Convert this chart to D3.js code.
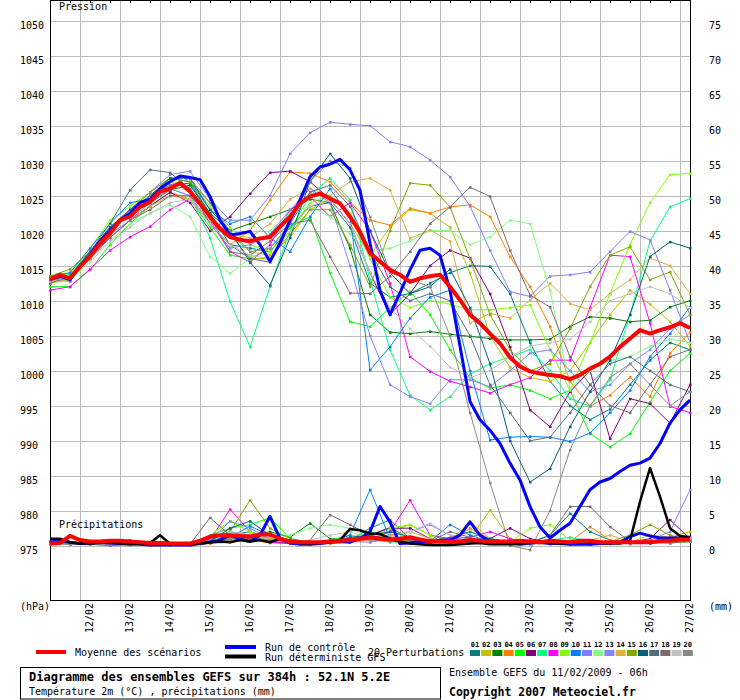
<!DOCTYPE html>
<html>
<head>
    <meta http-equiv="content-Type" content="text/html; charset=utf-8"/>
		<style>
		body {
		    margin: 0;
		    background: #ffffff;
		}
		svg {
		    font-family: "DejaVu Sans Mono", monospace;
		    font-size: 10px;
		}
		</style>
</head>
<body>

<div id="gefs"></div>

<script src="https://d3js.org/d3.v7.min.js" charset="utf-8"></script>

<script>

// ***************
// Data
// ***************

// time axis : hours after 11/02/2009 06h, 6h steps for the main runs,
// 12h steps for the 20 perturbations
var dateLabels = ["12/02","13/02","14/02","15/02","16/02","17/02","18/02","19/02",
                  "20/02","21/02","22/02","23/02","24/02","25/02","26/02","27/02"];
var pressTicks = [975,980,985,990,995,1000,1005,1010,1015,1020,1025,1030,1035,1040,1045,1050];
var mmTicks    = [0,5,10,15,20,25,30,35,40,45,50,55,60,65,70,75];

// mean of scenarios (hPa, every 6h)
var meanPress = [1013.0,1013.7,1013.2,1014.9,1016.3,1018.2,1019.6,1021.5,1022.0,1023.4,
                 1024.1,1025.6,1026.0,1026.8,1025.6,1023.9,1022.0,1020.3,1019.1,1018.7,
                 1018.5,1018.9,1019.1,1020.6,1022.0,1023.9,1024.9,1025.3,1024.6,1023.9,
                 1022.0,1019.8,1016.8,1015.6,1014.4,1013.7,1012.7,1013.2,1013.5,1013.7,
                 1012.0,1010.1,1008.0,1006.8,1005.3,1003.9,1001.9,1000.6,999.9,999.6,
                 999.4,999.2,998.8,999.4,1000.3,1001.0,1002.0,1003.4,1004.6,1005.8,
                 1005.3,1005.8,1006.2,1006.8,1006.1];
// mean precipitation (mm, every 6h)
var meanRain = [0.3,0.4,1.4,0.8,0.6,0.6,0.7,0.7,0.6,0.5,
                0.4,0.4,0.3,0.3,0.3,0.7,1.3,1.5,1.5,1.4,
                1.3,1.6,1.6,1.0,0.6,0.5,0.5,0.5,0.6,0.7,
                0.8,1.0,1.2,1.0,0.9,1.0,1.2,0.9,0.6,0.6,
                0.6,0.6,0.8,0.7,0.6,0.6,0.6,0.7,0.6,0.5,
                0.7,0.6,0.5,0.7,0.7,0.5,0.5,0.5,0.5,0.5,
                0.5,0.7,0.7,0.9,0.9];

// control run
var ctrlPress = [1013.0,1013.5,1013.0,1015.0,1016.5,1018.5,1020.0,1021.5,1022.5,1024.0,
                 1024.5,1026.0,1027.0,1027.8,1027.6,1027.3,1024.9,1021.5,1019.4,1019.6,
                 1019.9,1018.0,1015.6,1018.2,1021.5,1024.4,1027.7,1029.1,1029.5,1030.2,
                 1028.7,1025.8,1018.2,1011.5,1008.0,1011.1,1014.4,1017.2,1017.5,1016.5,
                 1011.5,1003.5,995.6,993.0,991.5,989.6,986.8,984.4,980.6,977.7,
                 976.1,977.2,978.2,980.6,983.0,984.1,984.6,985.6,986.5,986.8,
                 987.5,989.6,992.5,994.4,995.8];
var ctrlRain = [0.5,0.8,0.5,0.3,0.4,0.5,0.4,0.3,0.3,0.2,
                0.1,0.1,0.1,0.1,0.1,0.3,0.5,0.8,1.5,1.0,
                0.6,1.5,4.2,1.0,0.4,0.2,0.2,0.3,0.5,0.6,
                0.5,1.0,2.0,5.6,3.4,0.3,0.4,0.6,0.5,0.8,
                0.8,1.5,3.4,1.5,0.6,0.4,0.3,0.2,0.4,0.5,
                0.3,0.3,0.2,0.2,0.2,0.3,0.4,0.5,1.3,1.8,
                1.4,1.1,1.1,1.1,1.2];

// deterministic GFS (only the precipitation shows)
var detRain = [1.0,1.0,0.5,0.3,0.3,0.4,0.5,0.3,0.2,0.3,
               0.4,1.5,0.3,0.2,0.2,0.3,0.5,0.6,0.5,0.8,
               0.6,0.8,0.5,1.0,0.7,0.4,0.3,0.4,0.5,0.8,
               2.4,2.2,1.7,1.7,1.0,0.6,0.3,0.2,0.1,0.1,
               0.1,0.2,0.3,0.4,0.2,0.2,0.2,0.3,0.4,0.5,
               0.4,0.3,0.4,0.8,0.6,0.4,0.3,0.3,0.7,6.3,
               11.1,7.0,2.5,1.4,1.2];

// 20 perturbations, pressure (hPa, every 12h)
var press01 = [1013.5,1013.2,1016.8,1020.0,1022.5,1025.0,1026.5,1026.8,1022.5,1018.0,1017.5,1017.0,1020.5,1023.5,1024.0,1020.5,1012.5,1010.5,1011.0,1012.5,1014.0,1015.0,1014.9,1011.0,1004.0,998.5,995.0,993.0,994.5,998.0,1001.5,1004.0,1003.0];
var press02 = [1012.5,1013.5,1016.0,1019.5,1022.5,1024.5,1027.0,1026.0,1022.0,1019.5,1017.0,1016.5,1019.0,1023.0,1024.5,1021.0,1016.5,1020.5,1023.0,1022.5,1020.5,1014.0,1005.0,1000.5,999.0,998.5,1000.0,1004.0,1008.0,1011.5,1009.5,1007.0,1003.5];
var press03 = [1013.0,1012.8,1016.2,1019.8,1022.5,1024.0,1025.8,1026.5,1022.5,1020.0,1021.0,1022.0,1023.0,1024.5,1024.0,1017.5,1008.0,1005.5,1005.3,1005.6,1005.2,1004.9,1004.6,1004.4,1004.4,1004.5,1006.3,1007.7,1007.5,1007.0,1007.2,1009.1,1010.0];
var press04 = [1012.8,1013.0,1016.0,1019.0,1021.5,1023.5,1025.5,1024.5,1021.0,1018.0,1020.0,1024.4,1028.4,1028.2,1027.0,1024.0,1021.5,1020.8,1023.2,1022.5,1023.4,1023.7,1022.0,1016.3,1012.0,1006.3,998.5,994.9,996.5,999.1,996.3,1002.5,1005.5];
var press05 = [1012.0,1012.0,1014.4,1018.0,1021.0,1023.5,1025.0,1024.5,1020.5,1016.5,1016.0,1017.5,1020.5,1022.0,1014.0,1007.0,1006.3,1009.0,1011.3,1008.0,1003.0,999.0,997.5,998.0,997.2,996.0,997.2,991.0,989.1,991.0,995.5,1000.0,1002.5];
var press06 = [1013.2,1013.5,1016.5,1019.0,1021.5,1023.5,1025.5,1024.0,1020.0,1022.0,1025.3,1028.3,1028.5,1027.0,1024.5,1021.0,1014.0,1008.0,1011.0,1015.0,1017.2,1016.1,1011.0,1003.4,994.4,992.0,997.0,1000.0,990.3,996.0,995.3,992.5,998.0];
var press07 = [1013.0,1013.8,1017.0,1020.5,1022.5,1024.5,1026.0,1025.0,1019.0,1009.9,1003.4,1012.0,1020.1,1025.0,1027.5,1024.4,1013.0,1003.0,996.5,994.4,996.3,999.5,1001.0,1002.0,1003.0,1000.0,996.0,994.9,998.7,1008.0,1018.5,1023.4,1024.6];
var press08 = [1011.5,1012.0,1014.5,1017.2,1019.1,1020.6,1023.0,1024.5,1021.5,1017.0,1015.5,1018.0,1023.0,1024.9,1022.0,1024.0,1020.0,1012.5,1002.0,999.9,998.5,997.7,996.8,998.0,999.0,1001.5,1001.5,1009.0,1016.5,1016.3,1006.8,994.9,994.0];
var press09 = [1013.0,1014.0,1017.5,1021.5,1023.5,1025.5,1027.5,1027.0,1023.5,1020.5,1018.0,1017.0,1020.0,1024.0,1025.0,1022.5,1016.0,1010.5,1009.0,1010.0,1009.5,1008.7,1008.7,1009.0,1009.4,1003.0,997.2,1004.0,1011.0,1018.0,1024.0,1028.0,1028.2];
var press10 = [1013.5,1014.0,1017.5,1021.0,1024.0,1024.5,1027.5,1027.0,1023.0,1021.0,1022.0,1019.0,1017.0,1022.0,1026.0,1022.0,1000.1,1003.4,1007.5,1010.5,1011.5,1000.0,990.1,990.5,990.6,990.5,989.9,991.1,994.0,997.2,1002.0,1005.3,1009.1];
var press11 = [1013.0,1013.5,1016.5,1020.0,1023.0,1025.5,1028.0,1028.5,1024.5,1021.5,1021.5,1025.0,1031.0,1034.0,1035.5,1035.2,1035.0,1032.7,1032.0,1030.1,1027.7,1023.5,1017.2,1011.3,1010.6,1013.5,1013.7,1014.1,1017.0,1019.9,1018.7,1011.5,1004.0];
var press12 = [1012.5,1013.0,1015.5,1018.5,1021.0,1022.5,1023.7,1022.0,1016.3,1013.9,1016.0,1020.0,1022.5,1023.5,1022.0,1019.5,1017.0,1017.5,1018.5,1020.0,1020.0,1018.0,1019.1,1021.5,1021.0,1011.5,997.5,1000.0,1001.5,1002.0,1003.5,1004.5,1004.0];
var press13 = [1013.0,1013.5,1016.0,1019.5,1021.5,1024.0,1026.0,1025.0,1021.0,1017.5,1018.0,1019.5,1023.0,1026.0,1024.0,1015.0,1005.0,998.0,996.3,995.3,998.7,998.7,997.7,1000.0,1002.5,1003.0,1000.0,997.0,998.0,1001.0,1003.0,1006.0,1008.0];
var press14 = [1012.5,1013.0,1016.0,1019.0,1021.5,1023.5,1025.0,1024.5,1021.5,1019.5,1019.0,1021.0,1024.5,1026.0,1025.0,1027.0,1027.5,1025.8,1018.9,1020.1,1018.5,1006.8,1008.2,1007.5,1010.1,1012.5,1009.6,1008.7,1011.0,1013.0,1016.1,1015.0,1011.0];
var press15 = [1013.5,1014.5,1017.0,1020.5,1023.0,1025.5,1027.5,1027.0,1024.0,1019.5,1016.0,1016.0,1019.5,1023.0,1023.0,1018.0,1012.0,1020.0,1026.8,1026.5,1023.4,1016.0,1008.0,1003.0,1000.0,1001.0,1006.0,1012.0,1016.5,1017.7,1013.0,1014.1,1008.0];
var press16 = [1013.0,1013.5,1017.0,1020.5,1023.0,1025.0,1027.5,1027.5,1023.0,1020.0,1015.5,1012.2,1019.0,1027.0,1031.0,1027.5,1020.0,1014.0,1011.0,1012.0,1014.5,1009.0,1001.0,990.0,984.1,986.0,992.0,997.0,1001.5,1008.0,1016.3,1018.4,1017.5];
var press17 = [1012.5,1013.5,1017.0,1021.0,1025.8,1028.7,1028.3,1026.0,1021.0,1018.0,1016.0,1015.5,1021.0,1025.5,1026.5,1023.5,1017.0,1012.0,1010.0,1011.0,1010.0,1005.0,998.0,994.0,990.0,990.5,994.0,998.0,1001.0,1002.0,1000.0,998.0,997.0];
var press18 = [1013.0,1013.0,1016.0,1019.0,1021.5,1023.0,1025.0,1025.0,1022.0,1017.0,1016.5,1018.5,1021.0,1021.5,1016.3,1011.1,1011.0,1013.5,1017.0,1021.0,1023.4,1026.2,1024.9,1017.2,1010.8,1009.1,1002.0,998.0,995.0,994.0,998.0,1002.0,1003.0];
var press19 = [1012.8,1013.3,1016.0,1018.5,1020.5,1022.5,1024.0,1024.5,1021.0,1018.0,1016.5,1016.0,1020.0,1023.5,1024.5,1021.0,1014.0,1009.0,1006.0,1003.5,1000.5,999.0,1000.0,1002.0,1003.5,1004.0,1004.5,1007.0,1010.0,1011.0,1012.0,1011.0,1009.0];
var press20 = [1013.0,1013.2,1016.5,1020.0,1022.5,1025.0,1026.5,1027.5,1024.0,1020.0,1017.0,1017.5,1021.0,1027.0,1030.0,1029.0,1022.0,1014.0,1013.0,1012.0,1005.0,994.0,984.0,975.0,974.4,980.0,988.7,995.0,999.0,1001.0,998.0,995.0,997.0];

// 20 perturbations, precipitation (mm, every 12h)
var rain01 = [0.6,0.4,0.3,0.2,0.3,0.2,0.1,0.3,0.8,1.5,2.0,1.0,0.5,0.3,0.4,0.8,2.5,3.7,1.0,0.6,1.2,2.0,1.0,0.5,0.3,1.5,4.6,2.0,0.8,0.5,0.4,0.6,0.8];
var rain02 = [0.3,0.2,0.2,0.3,0.2,0.1,0.1,0.2,0.5,2.0,1.2,0.6,0.4,0.3,0.5,1.0,0.8,2.0,3.0,1.5,0.8,1.0,5.1,1.0,0.4,0.3,0.2,0.4,0.6,0.5,1.5,1.2,2.0];
var rain03 = [0.4,0.3,0.2,0.2,0.3,0.2,0.1,0.2,1.0,1.2,1.5,2.0,1.2,3.2,1.0,0.8,1.5,2.6,1.0,0.5,0.4,0.6,0.5,0.4,0.3,0.3,0.5,0.6,0.4,0.3,0.5,0.4,0.6];
var rain04 = [0.2,0.3,0.2,0.1,0.2,0.3,0.2,0.1,0.3,0.5,0.8,0.4,0.3,0.2,0.3,0.5,1.0,1.5,0.8,0.4,0.6,2.5,1.0,0.5,0.3,0.4,0.6,2.7,0.8,0.4,0.5,1.0,0.8];
var rain05 = [0.3,0.2,0.3,0.2,0.1,0.2,0.1,0.2,1.5,2.5,3.0,4.0,1.0,0.5,0.8,1.5,1.0,0.5,0.6,0.4,0.5,0.8,0.6,0.4,0.3,0.5,0.6,0.4,0.3,0.5,0.8,0.5,0.7];
var rain06 = [0.2,0.3,0.2,0.1,0.2,0.1,0.1,0.3,0.5,0.8,1.0,0.6,0.4,0.3,0.5,0.6,1.5,2.5,2.5,1.0,0.5,0.6,1.0,2.5,1.0,0.5,0.3,0.2,0.3,0.5,1.0,3.7,1.0];
var rain07 = [0.3,0.2,0.2,0.3,0.2,0.1,0.2,0.2,1.0,2.0,1.5,0.8,0.5,0.4,0.6,1.0,2.0,1.2,0.8,0.5,0.4,0.6,0.5,0.3,0.4,0.8,1.2,0.6,0.4,0.3,0.5,0.4,0.6];
var rain08 = [0.2,0.3,0.2,0.1,0.1,0.2,0.1,0.1,0.8,5.2,2.0,0.5,0.3,0.2,0.4,0.6,1.0,2.0,6.5,1.5,1.0,1.2,2.0,1.0,0.4,0.3,0.2,0.3,0.4,0.5,0.4,0.8,1.2];
var rain09 = [0.3,0.2,0.3,0.2,0.2,0.1,0.1,0.2,1.5,3.5,2.0,1.0,0.6,0.4,0.8,1.2,0.8,2.5,3.0,1.5,0.6,0.8,1.0,0.5,2.5,3.0,0.8,0.4,0.5,0.6,0.5,0.4,0.6];
var rain10 = [0.4,0.3,0.3,0.6,0.8,0.4,0.2,0.1,1.0,1.2,2.8,1.5,0.8,0.6,0.5,1.5,8.0,1.0,0.8,0.6,3.0,1.5,0.6,0.4,0.3,0.5,0.4,0.3,0.4,0.5,0.3,0.5,0.8];
var rain11 = [0.3,0.2,0.4,0.3,0.2,0.1,0.2,0.2,0.8,3.5,2.5,1.0,0.5,0.3,0.5,0.6,0.5,1.0,0.8,0.6,0.5,0.4,0.3,0.4,0.8,0.6,0.5,0.3,0.4,0.6,0.8,2.0,8.0];
var rain12 = [0.2,0.3,0.2,0.2,0.1,0.1,0.2,0.1,0.5,1.0,1.5,0.8,1.5,2.5,3.0,2.5,1.0,0.8,0.6,0.5,0.8,0.6,0.4,0.3,0.5,0.4,0.3,0.5,0.6,0.4,0.6,0.5,0.7];
var rain13 = [0.3,0.2,0.3,0.2,0.3,0.2,0.1,0.1,0.6,2.0,1.5,0.8,0.4,0.3,0.5,1.0,0.8,1.5,2.0,3.0,1.5,0.8,0.6,0.4,0.3,0.5,0.6,0.4,0.5,0.3,0.4,0.6,0.9];
var rain14 = [0.2,0.2,0.3,0.2,0.2,0.1,0.1,0.2,0.5,0.8,1.5,1.0,0.6,0.4,0.3,0.6,0.8,1.5,2.0,1.0,0.6,3.5,1.0,0.5,0.3,0.2,0.5,0.8,1.5,0.6,0.5,0.8,1.0];
var rain15 = [0.3,0.2,0.2,0.3,0.2,0.1,0.1,0.2,1.0,2.0,6.5,2.5,1.0,0.5,0.4,0.8,1.0,0.6,0.8,0.5,0.6,0.8,0.6,0.4,0.3,0.4,0.5,0.3,0.6,1.5,3.0,1.5,0.8];
var rain16 = [0.4,0.3,0.2,0.3,0.5,0.2,0.1,0.1,0.6,2.5,3.5,1.5,0.6,0.4,0.5,1.2,1.5,2.0,1.2,0.8,0.6,0.8,1.0,0.5,0.3,0.4,0.3,0.5,0.4,0.3,0.4,0.5,0.7];
var rain17 = [0.5,0.4,0.3,0.3,0.4,0.5,0.4,0.3,0.5,1.0,1.2,0.8,0.5,0.4,0.6,0.8,1.0,0.8,0.6,0.5,0.4,0.6,0.8,0.5,0.4,0.3,0.4,0.5,0.3,0.4,0.5,0.6,0.8];
var rain18 = [0.3,0.2,0.2,0.1,0.2,0.1,0.2,0.2,4.0,1.5,1.0,0.8,0.6,0.8,4.4,3.0,1.5,1.0,0.8,0.6,2.0,1.2,0.6,0.4,0.5,1.5,5.6,5.6,2.7,0.6,0.5,0.4,0.6];
var rain19 = [0.2,0.2,0.1,0.2,0.1,0.1,0.1,0.1,0.5,2.0,1.5,0.8,0.5,0.8,1.5,2.0,1.0,0.6,2.0,3.2,1.5,0.8,0.5,0.4,0.3,0.2,0.3,0.4,0.3,0.4,0.5,0.6,1.0];
var rain20 = [0.3,0.2,0.2,0.2,0.1,0.2,0.1,0.2,0.6,1.0,1.2,0.8,0.6,0.5,0.8,1.0,0.8,0.6,0.5,0.6,0.8,0.6,0.5,0.4,0.3,0.4,0.3,0.4,0.5,0.3,0.4,0.5,0.7];

var pertColors = ["#008080","#c0c000","#008000","#ff8000","#00ff00","#800080","#00ff80","#ff00ff",
                  "#80ff00","#0080ff","#8080ff","#80ff80","#8484ff","#e0b040","#80a800","#006080",
                  "#507080","#806870","#c0c0c0","#888888"];

var pertPress = [press01,press02,press03,press04,press05,press06,press07,press08,press09,press10,
                 press11,press12,press13,press14,press15,press16,press17,press18,press19,press20];
var pertRain  = [rain01,rain02,rain03,rain04,rain05,rain06,rain07,rain08,rain09,rain10,
                 rain11,rain12,rain13,rain14,rain15,rain16,rain17,rain18,rain19,rain20];


// ***************
// Chart
// ***************

var mono = "DejaVu Sans Mono";

var svg = d3.select("#gefs")
    .append("svg")
    .attr("width", 740)
    .attr("height", 700);

var x   = d3.scaleLinear().domain([0, 384]).range([50, 690]);
var y   = d3.scaleLinear().domain([975, 1050]).range([545.7, 20.7]);
var yMm = d3.scaleLinear().domain([0, 75]).range([545.7, 20.7]);

var dateHours = dateLabels.map(function(d, i) { return 18 + 24 * i; });

// grid
var grid = svg.append("g")
    .attr("stroke", "#bbbbbb")
    .attr("shape-rendering", "crispEdges");

grid.selectAll(".hgrid")
    .data(pressTicks)
  .enter()
    .append("line")
    .attr("x1", 50).attr("x2", 690)
    .attr("y1", function(d) { return Math.round(y(d)) + 0.5; })
    .attr("y2", function(d) { return Math.round(y(d)) + 0.5; });

grid.selectAll(".vgrid")
    .data(dateHours)
  .enter()
    .append("line")
    .attr("y1", 0).attr("y2", 600)
    .attr("x1", function(d) { return x(d) + 0.5; })
    .attr("x2", function(d) { return x(d) + 0.5; });

// axes
var gLeft = svg.append("g")
    .attr("transform", "translate(50,0)")
    .call(d3.axisLeft(y).tickValues(pressTicks).tickSize(0).tickFormat(d3.format("d")));
gLeft.select(".domain").remove();
gLeft.selectAll("text")
    .attr("x", -30)
    .attr("dy", "0.75em")
    .attr("text-anchor", "start")
    .attr("font-family", mono)
    .attr("font-size", 10);

var gRight = svg.append("g")
    .attr("transform", "translate(690,0)")
    .call(d3.axisRight(yMm).tickValues(mmTicks).tickSize(0));
gRight.select(".domain").remove();
gRight.selectAll("text")
    .attr("x", 19)
    .attr("dy", "0.75em")
    .attr("text-anchor", "start")
    .attr("font-family", mono)
    .attr("font-size", 10);

var gBottom = svg.append("g")
    .attr("transform", "translate(0,600)")
    .call(d3.axisBottom(x).tickValues(dateHours).tickSize(0)
          .tickFormat(function(d, i) { return dateLabels[i]; }));
gBottom.select(".domain").remove();
gBottom.selectAll("text")
    .attr("transform", "rotate(-90)")
    .attr("x", -3)
    .attr("y", 12)
    .attr("dy", 0)
    .attr("text-anchor", "end")
    .attr("font-family", mono)
    .attr("font-size", 10);

// top edge with small 12h ticks
var gTop = svg.append("g")
    .attr("transform", "translate(0,0.5)")
    .call(d3.axisBottom(x).tickValues(d3.range(0, 385, 12)).tickSize(2).tickFormat(""));
gTop.select(".domain").attr("d", "M50,0H690");
gTop.attr("shape-rendering", "crispEdges");

// frame
svg.append("path")
    .attr("d", "M50.5,0V600.5H690.5V0")
    .attr("fill", "none")
    .attr("stroke", "#000")
    .attr("shape-rendering", "crispEdges");

svg.append("text").attr("x", 59).attr("y", 10).text("Pression");
svg.append("text").attr("x", 59).attr("y", 528).text("Précipitations");
svg.append("text").attr("x", 20).attr("y", 610).text("(hPa)");
svg.append("text").attr("x", 709).attr("y", 610).text("(mm)");

// *****************
// Series
// *****************

var plot = svg.append("g");

function drawSeries(values, step, scale, color, width, marks) {
	var pts = values.map(function(v, i) { return [i * step, v]; });
	plot.append("path")
	    .datum(pts)
	    .attr("fill", "none")
	    .attr("stroke", color)
	    .attr("stroke-width", width)
	    .attr("stroke-linejoin", "round")
	    .attr("d", d3.line()
	        .x(function(d) { return x(d[0]); })
	        .y(function(d) { return scale(d[1]); }));
	if (marks) {
		plot.append("g").selectAll("rect")
		    .data(pts)
		  .enter()
		    .append("rect")
		    .attr("x", function(d) { return x(d[0]) - 1; })
		    .attr("y", function(d) { return scale(d[1]) - 1; })
		    .attr("width", 2.5)
		    .attr("height", 2.5)
		    .attr("fill", color);
	}
}

// perturbations
pertPress.forEach(function(p, k) {
	drawSeries(p, 12, y, pertColors[k], 1, true);
});
pertRain.forEach(function(r, k) {
	drawSeries(r, 12, yMm, pertColors[k], 1, true);
});

// control, deterministic, mean
drawSeries(ctrlRain, 6, yMm, "#0000ff", 3, false);
drawSeries(ctrlPress, 6, y, "#0000ff", 3, false);
drawSeries(detRain, 6, yMm, "#000000", 2.5, false);
drawSeries(meanRain, 6, yMm, "#ff0000", 4, false);
drawSeries(meanPress, 6, y, "#ff0000", 4, false);

// *****************
// Legend
// *****************

var leg = svg.append("g");

leg.append("line").attr("x1", 36).attr("x2", 66).attr("y1", 652).attr("y2", 652)
    .attr("stroke", "#ff0000").attr("stroke-width", 4);
leg.append("text").attr("x", 75).attr("y", 656).text("Moyenne des scénarios");

leg.append("line").attr("x1", 225).attr("x2", 256).attr("y1", 647).attr("y2", 647)
    .attr("stroke", "#0000ff").attr("stroke-width", 4);
leg.append("line").attr("x1", 225).attr("x2", 256).attr("y1", 656.5).attr("y2", 656.5)
    .attr("stroke", "#000000").attr("stroke-width", 4);
leg.append("text").attr("x", 265).attr("y", 651).text("Run de contrôle");
leg.append("text").attr("x", 265).attr("y", 661).text("Run déterministe GFS");
leg.append("text").attr("x", 368).attr("y", 656).text("20 Perturbations");

leg.selectAll(".sw")
    .data(pertColors)
  .enter()
    .append("rect")
    .attr("x", function(d, i) { return 470 + i * 11.2; })
    .attr("y", 650)
    .attr("width", 10)
    .attr("height", 6)
    .attr("fill", function(d) { return d; });

leg.selectAll(".swl")
    .data(pertColors)
  .enter()
    .append("text")
    .attr("x", function(d, i) { return 475 + i * 11.2; })
    .attr("y", 647)
    .attr("text-anchor", "middle")
    .attr("font-size", 7)
    .attr("font-weight", "bold")
    .text(function(d, i) { return d3.format("02d")(i + 1); });

// title box
svg.append("rect")
    .attr("x", 20.5).attr("y", 667.5)
    .attr("width", 420).attr("height", 31.5)
    .attr("fill", "none")
    .attr("stroke", "#000");
svg.append("text").attr("x", 29).attr("y", 681)
    .attr("font-size", 12).attr("font-weight", "bold")
    .text("Diagramme des ensembles GEFS sur 384h : 52.1N 5.2E");
svg.append("text").attr("x", 29).attr("y", 695)
    .text("Température 2m (°C) , précipitations (mm)");

svg.append("text").attr("x", 449).attr("y", 676)
    .text("Ensemble GEFS du 11/02/2009 - 06h");
svg.append("text").attr("x", 449).attr("y", 696)
    .attr("font-size", 11.5).attr("font-weight", "bold")
    .text("Copyright 2007 Meteociel.fr");

</script>
</body>
</html>
